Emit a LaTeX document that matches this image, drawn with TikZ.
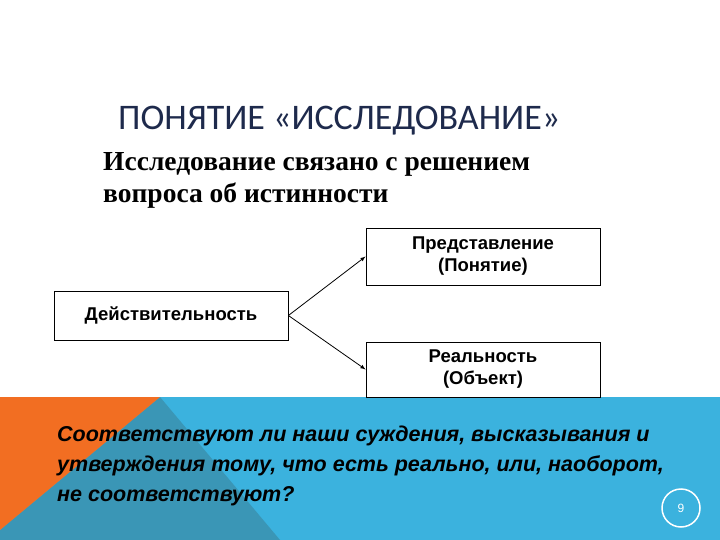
\documentclass[tikz,border=0pt]{standalone}
\usepackage{fontspec}
\setmainfont{Liberation Serif}
\newfontfamily\arialf{Liberation Sans}
\newfontfamily\titlef{Carlito}
\begin{document}
\begin{tikzpicture}[x=1pt,y=-1pt,
  box/.style={draw=black,line width=0.8pt,fill=white,font=\arialf\bfseries\fontsize{18.5}{22}\selectfont,align=center,inner sep=0pt},
  arr/.style={-latex,line width=0.8pt}]
\definecolor{orng}{HTML}{F26E22}
\definecolor{sky}{HTML}{3BB2DE}
\definecolor{teal2}{HTML}{3A96B6}
\definecolor{navy}{HTML}{1E2A4C}
\useasboundingbox (0,0) rectangle (720,540);
\fill[sky] (0,397) rectangle (720,540);
\fill[teal2] (160,397) -- (280,540) -- (0,540) -- (0,530) -- cycle;
\fill[orng] (0,397) -- (160,397) -- (0,530) -- cycle;
\node[anchor=west,text=navy,font=\titlef\fontsize{36}{40}\selectfont,inner sep=0pt] (title) at (118,121) {ПОНЯТИЕ «ИССЛЕДОВАНИЕ»};
\node[anchor=north west,align=left,font=\bfseries\fontsize{27.5}{32}\selectfont,inner sep=0pt] (sub) at (103,152) {Исследование связано с решением\\вопроса об истинности};
\node[box,minimum width=234pt,minimum height=57pt] (p) at (483,256.5) {Представление\\(Понятие)};
\node[box,minimum width=234pt,minimum height=49pt] (d) at (171,315.5) {Действительность};
\node[box,minimum width=234pt,minimum height=55pt] (r) at (483,369.5) {Реальность\\(Объект)};
\draw[arr] (d.east) -- (p.west);
\draw[arr] (d.east) -- (r.west);
\node[anchor=north west,align=left,font=\arialf\bfseries\itshape\fontsize{21.5}{30}\selectfont,inner sep=0pt] (q) at (57,426) {Соответствуют ли наши суждения, высказывания и\\утверждения тому, что есть реально, или, наоборот,\\не соответствуют?};
\node[circle,draw=white,line width=1.5pt,minimum size=38pt,text=white,font=\arialf\fontsize{12}{12}\selectfont] (n) at (681,508) {9};
\end{tikzpicture}
\end{document}
